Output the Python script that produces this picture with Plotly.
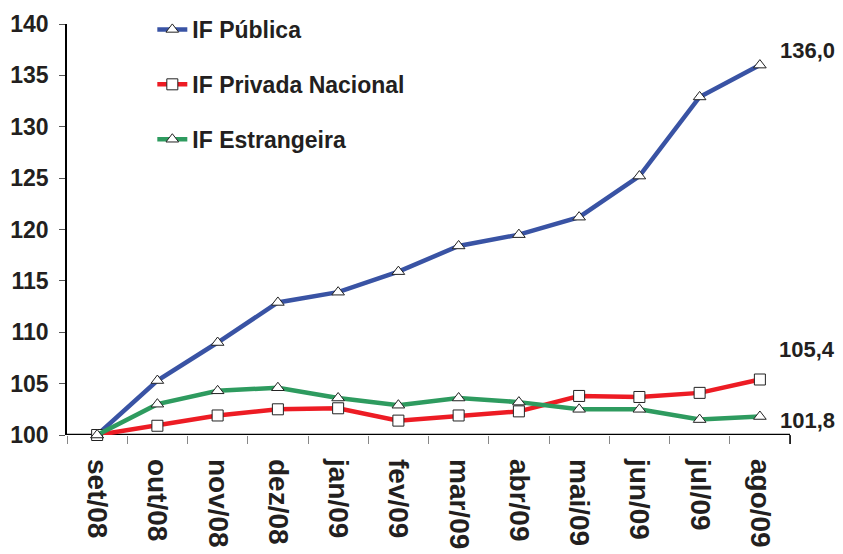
import plotly.graph_objects as go

months = ["set/08", "out/08", "nov/08", "dez/08", "jan/09", "fev/09", "mar/09",
          "abr/09", "mai/09", "jun/09", "jul/09", "ago/09"]
publica = [100.0, 105.3, 109.0, 112.9, 113.9, 115.9, 118.4, 119.5, 121.2, 125.2, 132.9, 136.0]
privada = [100.0, 100.9, 101.9, 102.5, 102.6, 101.4, 101.9, 102.3, 103.8, 103.7, 104.1, 105.4]
estrangeira = [100.0, 103.0, 104.3, 104.6, 103.6, 102.9, 103.6, 103.2, 102.5, 102.5, 101.5, 101.8]
series_names = ["IF Pública", "IF Privada Nacional", "IF Estrangeira"]
end_labels = ["136,0", "105,4", "101,8"]
end_label_y = [137.45, 108.3, 101.4]

FONT = "Liberation Sans, Arial, Helvetica, sans-serif"
TXT = "#231F20"

fig = go.Figure()
styles = [
    ("#3953A4", "triangle-up"),
    ("#ED1C24", "square"),
    ("#2E9B5F", "triangle-up"),
]
for name, vals, (col, sym) in zip(series_names, [publica, privada, estrangeira], styles):
    fig.add_trace(go.Scatter(
        x=months, y=vals, name=name, mode="lines+markers",
        line=dict(color=col, width=4.5),
        marker=dict(symbol=sym, size=11, color="white", line=dict(color="#222222", width=1)),
        cliponaxis=False, legendgroup=name,
    ))

for lab, yv in zip(end_labels, end_label_y):
    fig.add_annotation(xref="paper", x=1.0, y=yv, text=lab, showarrow=False,
                       xanchor="right", xshift=47, yanchor="middle",
                       font=dict(family=FONT, size=22, color=TXT, weight="bold"))

fig.update_layout(
    width=835, height=546,
    margin=dict(l=59, r=53, t=16, b=119, autoexpand=False),
    paper_bgcolor="white", plot_bgcolor="white",
    font=dict(family=FONT, color=TXT),
    showlegend=True,
    legend=dict(x=0.118, y=1.039, xanchor="left", yanchor="top",
                font=dict(family=FONT, size=23, color=TXT, weight="bold"),
                itemwidth=30, tracegroupgap=22, bgcolor="rgba(0,0,0,0)"),
    xaxis=dict(type="category", tickson="boundaries", ticks="outside", ticklen=8,
               tickcolor="#888888", tickangle=90, showgrid=False, showline=False,
               zeroline=False, range=[-0.5, 11.5], ticklabelstandoff=23,
               automargin=False,
               tickfont=dict(family=FONT, size=28, color=TXT, weight="bold")),
    yaxis=dict(range=[100, 140], dtick=5, ticks="outside", ticklen=6,
               tickcolor="#555555", showgrid=False, showline=True, linecolor="black",
               linewidth=1.5, zeroline=False, ticklabelstandoff=6, automargin=False,
               tickfont=dict(family=FONT, size=23, color=TXT, weight="bold")),
)
fig.add_shape(type="line", xref="paper", yref="y", x0=0, x1=1, y0=100, y1=100,
              line=dict(color="black", width=2.5), layer="below")
fig.add_shape(type="line", xref="paper", yref="paper", x0=1, x1=1, y0=0, y1=-0.022,
              line=dict(color="black", width=1.5))

fig.write_html("out.html")
